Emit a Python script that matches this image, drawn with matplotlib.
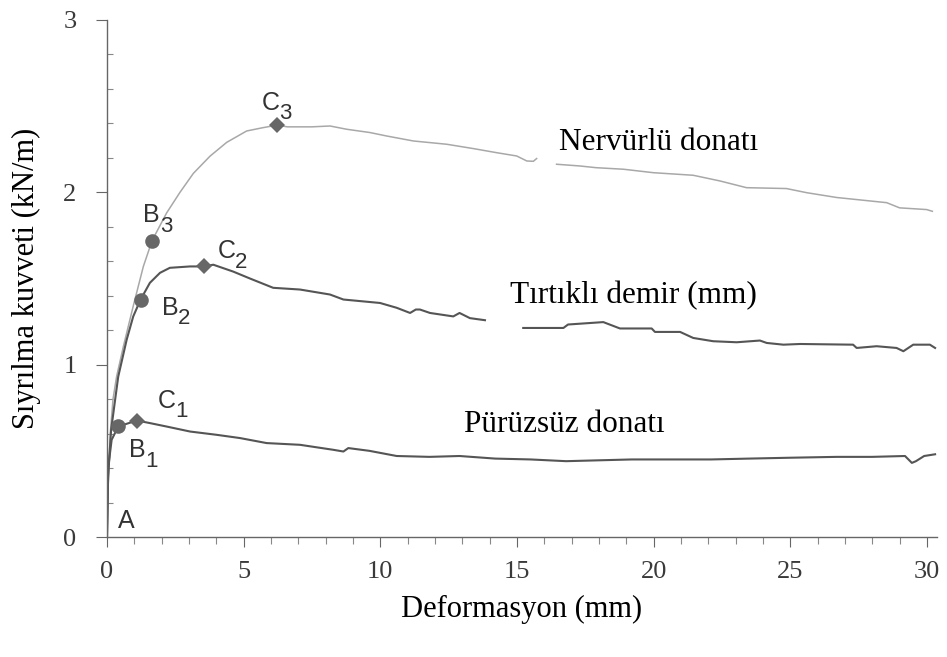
import numpy as np
import matplotlib
matplotlib.use("Agg")
from matplotlib import pyplot as plt
from matplotlib.transforms import offset_copy

nan = np.nan

# Nervurlu donati (ribbed bar)
x_nerv = [0, 0.04, 0.12, 0.22, 0.35, 0.6, 0.96, 1.33, 1.65, 2.18, 2.67, 3.16, 3.77, 4.38,
          5.11, 5.7, 6.22, 6.6, 7.5, 8.16, 8.77, 9.62, 10.23, 11.21, 12.43, 13.4, 14.26,
          14.99, 15.36, 15.6, 15.72, nan, 16.45, 17.3, 17.9, 18.9, 19.99, 21.45, 22.43,
          23.4, 24.86, 25.6, 26.7, 28.53, 29.0, 29.99, 30.2]
y_nerv = [0, 0.3, 0.6, 0.8, 0.93, 1.106, 1.34, 1.57, 1.72, 1.88, 2.0, 2.11, 2.21, 2.29,
          2.356, 2.375, 2.39, 2.38, 2.38, 2.385, 2.366, 2.347, 2.327, 2.298, 2.279, 2.254, 2.23,
          2.211, 2.182, 2.18, 2.196, nan, 2.163, 2.153, 2.143, 2.134, 2.114, 2.099, 2.066,
          2.027, 2.022, 1.998, 1.97, 1.94, 1.91, 1.90, 1.89]

# Tirtikli demir (indented bar)
x_tirt = [0, 0.04, 0.15, 0.3, 0.41, 0.72, 0.96, 1.23, 1.57, 1.94, 2.3, 3.04, 3.55, 3.89,
          4.62, 5.23, 6.08, 7.06, 8.16, 8.65, 9.99, 10.6, 11.09, 11.3, 11.45, 11.82, 12.67,
          12.9, 13.28, 13.83, nan, 15.23, 16.7, 16.87, 18.16, 18.77, 19.93, 20.05, 20.97,
          21.45, 22.18, 23.04, 23.89, 24.14, 24.75, 25.36, 27.3, 27.43, 28.16, 28.89, 29.14,
          29.5, 30.11, 30.3]
y_tirt = [0, 0.35, 0.62, 0.8, 0.93, 1.145, 1.28, 1.378, 1.475, 1.533, 1.562, 1.57, 1.57, 1.58,
          1.54, 1.50, 1.446, 1.436, 1.407, 1.378, 1.358, 1.33, 1.30, 1.32, 1.32, 1.30, 1.28,
          1.30, 1.27, 1.258, nan, 1.213, 1.213, 1.233, 1.247, 1.21, 1.21, 1.19, 1.19,
          1.155, 1.136, 1.13, 1.14, 1.126, 1.116, 1.12, 1.116, 1.097, 1.107, 1.097, 1.078,
          1.116, 1.116, 1.097]

# Puruzsuz donati (plain bar)
x_puru = [0, 0.02, 0.05, 0.17, 0.41, 1.09, 1.57, 2.18, 3.04, 4.01, 4.87, 5.84, 7.06, 8.28,
          8.65, 8.83, 9.6, 10.6, 11.8, 12.9, 14.2, 15.5, 16.8, 18.0, 19.2, 20.5, 22.1, 23.5,
          25.0, 26.7, 28.0, 29.2, 29.45, 29.6, 29.9, 30.3]
y_puru = [0, 0.2, 0.41, 0.564, 0.641, 0.676, 0.661, 0.641, 0.612, 0.593, 0.574, 0.545, 0.535,
          0.506, 0.496, 0.516, 0.50, 0.47, 0.465, 0.47, 0.455, 0.45, 0.44, 0.445, 0.45, 0.45,
          0.45, 0.455, 0.46, 0.465, 0.465, 0.47, 0.43, 0.44, 0.47, 0.48]

# characteristic points: B = circle, C = diamond
b_points = [(0.41, 0.645), (1.23, 1.378), (1.65, 1.72)]
c_points = [(1.09, 0.676), (3.55, 1.57), (6.22, 2.39)]

# point labels: (letter, index, x, y)
point_labels = [("A", "", 0.40, 0.05),
                ("B", "1", 0.80, 0.465), ("C", "1", 1.87, 0.75),
                ("B", "2", 2.00, 1.29), ("C", "2", 4.06, 1.62),
                ("B", "3", 1.32, 1.826), ("C", "3", 5.67, 2.48)]

curve_names = ["Nervürlü donatı", "Tırtıklı demir (mm)", "Pürüzsüz donatı"]
curve_name_pos = [(20.2, 2.29), (19.25, 1.40), (16.75, 0.655)]


def main():
    fig = plt.figure(figsize=(9.47, 6.57), dpi=100)
    ax = fig.add_axes([107 / 947, 120 / 657, 830 / 947, 517 / 657])

    ax.plot(x_nerv, y_nerv, color="#a8a8a8", lw=1.1)
    ax.plot(x_tirt, y_tirt, color="#555555", lw=1.5)
    ax.plot(x_puru, y_puru, color="#555555", lw=1.5)

    ax.plot([p[0] for p in b_points], [p[1] for p in b_points], "o",
            color="#676767", ms=10.5, mew=0, zorder=5)
    ax.plot([p[0] for p in c_points], [p[1] for p in c_points], "D",
            color="#676767", ms=8.5, mew=0, zorder=5)

    sans = "Liberation Sans"
    for letter, idx, x, y in point_labels:
        ax.text(x, y, letter, fontsize=18, family=sans, color="#333333",
                ha="left", va="baseline")
        if idx:
            tr = offset_copy(ax.transData, fig=fig, x=12, y=-7, units="points")
            ax.text(x, y, idx, fontsize=16, family=sans, color="#333333",
                    ha="left", va="baseline", transform=tr)

    serif = "Liberation Serif"
    for name, (x, y) in zip(curve_names, curve_name_pos):
        ax.text(x, y, name, fontsize=22.5, family=serif, ha="center", va="center")

    ax.set_xlim(0, 30.37)
    ax.set_ylim(0, 3)
    ax.spines["top"].set_visible(False)
    ax.spines["right"].set_visible(False)
    for s in ["left", "bottom"]:
        ax.spines[s].set_color("#666666")
        ax.spines[s].set_linewidth(1.0)

    ax.set_xticks(np.arange(0, 31, 5))
    ax.set_xticks(np.arange(0, 31, 1), minor=True)
    ax.set_yticks([0, 1, 2, 3])
    ax.set_yticks(np.arange(0, 3.01, 0.2), minor=True)
    ax.tick_params(axis="x", which="major", direction="out", length=7, width=0.8,
                   color="#666666", pad=10)
    ax.tick_params(axis="x", which="minor", direction="out", length=5, width=0.8,
                   color="#888888")
    ax.tick_params(axis="y", which="major", direction="out", length=8, width=0.8,
                   color="#666666", pad=14)
    ax.tick_params(axis="y", which="minor", direction="in", length=4, width=0.8,
                   color="#888888")
    for lab in ax.get_xticklabels() + ax.get_yticklabels():
        lab.set_family(serif)
        lab.set_fontsize(19)
        lab.set_color("#3a3a3a")

    ax.set_xlabel("Deformasyon (mm)", family=serif, fontsize=22, labelpad=9)
    ax.set_ylabel("Sıyrılma kuvveti (kN/m)", family=serif, fontsize=22, labelpad=16)

    fig.savefig("out.png", dpi=100)


if __name__ == "__main__":
    main()
